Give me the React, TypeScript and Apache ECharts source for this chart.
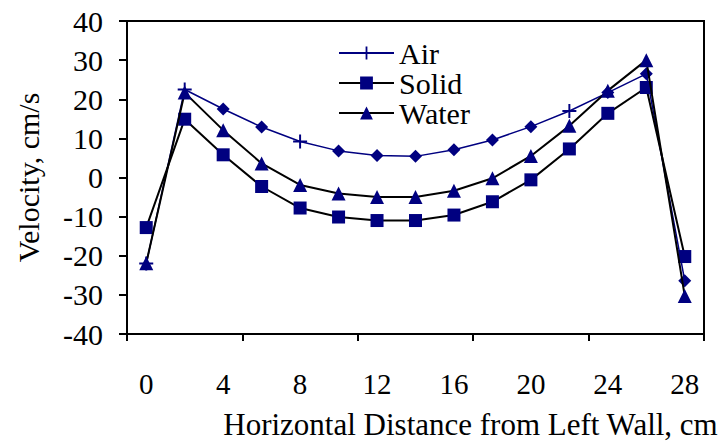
import React, { useEffect, useRef } from "react";
import * as echarts from "echarts";

const xCategories = ["0", "2", "4", "6", "8", "10", "12", "14", "16", "18", "20", "22", "24", "26", "28"];
const airValues = [-22, 22.5, 17.5, 12.9, 9.2, 6.8, 5.6, 5.4, 7.1, 9.6, 13.0, 17.0, 21.7, 26.5, -26.4];
const airMarkers = ["plus", "plus", "diamond", "diamond", "plus", "diamond", "diamond", "diamond", "diamond", "diamond", "diamond", "plus", "diamond", "diamond", "diamond"];
const solidValues = [-12.8, 14.9, 5.8, -2.3, -7.8, -10.1, -11.0, -11.0, -9.6, -6.2, -0.6, 7.3, 16.4, 23.0, -20.2];
const waterValues = [-21.9, 21.7, 12.1, 3.6, -1.9, -4.1, -5.0, -5.0, -3.4, -0.2, 5.5, 13.2, 22.2, 30.0, -30.3];
const yTicks = { min: -40, max: 40, interval: 10 };

const NAVY = "#000080";
const FONT = "'Liberation Serif', 'Times New Roman', serif";
const PLUS = "path://M-1,-0.14 L1,-0.14 L1,0.14 L-1,0.14 Z M-0.14,-1 L0.14,-1 L0.14,1 L-0.14,1 Z";

export default function App() {
  const ref = useRef<HTMLDivElement>(null);
  useEffect(() => {
    if (!ref.current) return;
    const chart = echarts.init(ref.current, undefined, { renderer: "svg" });
    const symFor = (m: string) => (m === "plus" ? PLUS : "diamond");
    chart.setOption({
      animation: false,
      textStyle: { fontFamily: FONT, color: "#000" },
      grid: { left: 127, right: 24, top: 21, bottom: 111, show: true, borderColor: "#000", borderWidth: 2 },
      legend: {
        left: 333,
        top: 33,
        orient: "vertical",
        itemWidth: 55,
        itemHeight: 16,
        itemGap: 0,
        textStyle: { fontFamily: FONT, fontSize: 30, color: "#000", lineHeight: 30 },
        data: ["Air", "Solid", "Water"],
      },
      xAxis: {
        type: "category",
        data: xCategories,
        boundaryGap: true,
        name: "Horizontal Distance from Left Wall, cm",
        nameLocation: "middle",
        nameGap: 75,
        nameTextStyle: { fontFamily: FONT, fontSize: 31, color: "#000", padding: [0, 0, 0, 110] },
        axisLine: { onZero: false, lineStyle: { color: "#000", width: 2 } },
        axisTick: { show: true, interval: 2, length: 7, lineStyle: { color: "#000", width: 2 } },
        axisLabel: { interval: 1, margin: 35, fontSize: 29, color: "#000", fontFamily: FONT },
        splitLine: { show: false },
      },
      yAxis: {
        type: "value",
        min: yTicks.min,
        max: yTicks.max,
        interval: yTicks.interval,
        name: "Velocity, cm/s",
        nameLocation: "middle",
        nameGap: 84,
        nameTextStyle: { fontFamily: FONT, fontSize: 30, color: "#000" },
        axisLine: { show: true, lineStyle: { color: "#000", width: 2 } },
        axisTick: { show: true, length: 8, lineStyle: { color: "#000", width: 2 } },
        axisLabel: { margin: 24, fontSize: 30, color: "#000", fontFamily: FONT },
        splitLine: { show: false },
      },
      series: [
        {
          name: "Air",
          type: "line",
          symbol: PLUS,
          symbolSize: 13,
          itemStyle: { color: NAVY },
          lineStyle: { color: NAVY, width: 1.5 },
          data: airValues.map((v, i) => ({ value: v, symbol: symFor(airMarkers[i]), symbolSize: airMarkers[i] === "plus" ? 14 : 13 })),
          z: 2,
        },
        {
          name: "Solid",
          type: "line",
          symbol: "rect",
          symbolSize: 13,
          itemStyle: { color: NAVY },
          lineStyle: { color: "#000", width: 2 },
          data: solidValues,
          z: 3,
        },
        {
          name: "Water",
          type: "line",
          symbol: "triangle",
          symbolSize: 14,
          itemStyle: { color: NAVY },
          lineStyle: { color: "#000", width: 2 },
          data: waterValues,
          z: 4,
        },
      ],
    });
    return () => chart.dispose();
  }, []);
  return <div ref={ref} style={{ width: 728, height: 445, position: "absolute", left: 0, top: 0 }} />;
}
